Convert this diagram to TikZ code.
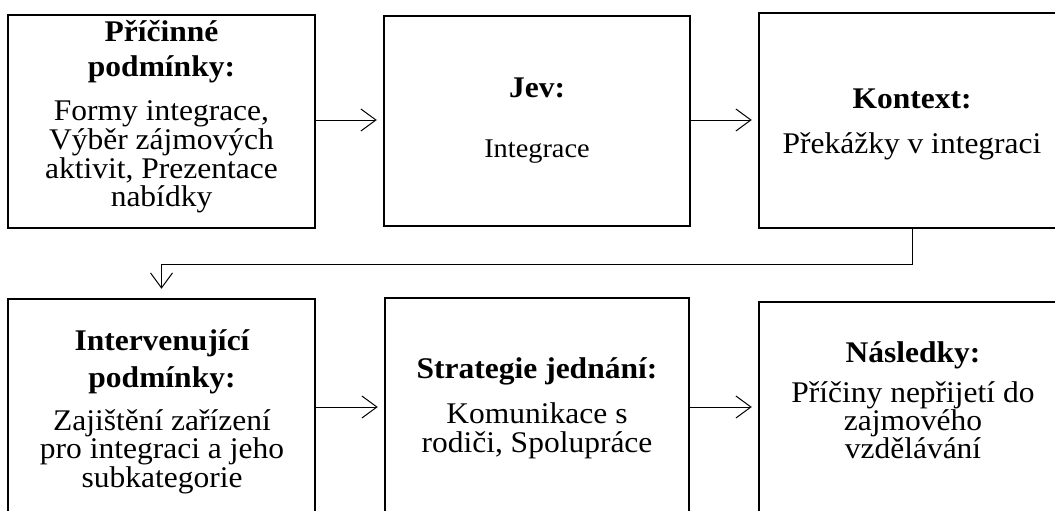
\documentclass[tikz,border=0pt]{standalone}
\usepackage{fontspec}
\setmainfont{Liberation Serif}[FakeStretch=1.05]
\usetikzlibrary{arrows.meta}
\tikzset{
  box/.style={draw, line width=2.5pt, rectangle, inner sep=0pt},
  conn/.style={line width=1pt, -{Straight Barb[length=15pt,width=22pt,line width=1pt]}},
  plainline/.style={line width=1pt},
  tl/.style={anchor=base, inner sep=0pt, font=\fontsize{30}{30}\selectfont},
  tb/.style={anchor=base, inner sep=0pt, font=\fontsize{30}{30}\selectfont\bfseries},
}
\begin{document}
\begin{tikzpicture}[x=1pt,y=-1pt]
\useasboundingbox (0,0) rectangle (1055,511);
\clip (0,0) rectangle (1055,511);
\fill[white] (0,0) rectangle (1055,511);

% boxes
\node[box, minimum width=307pt, minimum height=213pt] (b1) at (161.5,121.5) {};
\node[box, minimum width=306pt, minimum height=210pt] (b2) at (537,121) {};
\node[box, minimum width=306pt, minimum height=215pt] (b3) at (912,120.5) {};
\node[box, minimum width=307pt, minimum height=215pt] (b4) at (161.5,406.5) {};
\node[box, minimum width=304pt, minimum height=216pt] (b5) at (537,406) {};
\node[box, minimum width=306pt, minimum height=212pt] (b6) at (912,408) {};

% texts box 1
\node[tb] (t1a) at (161.5,42) {Příčinné};
\node[tb] (t1b) at (161.5,77) {podmínky:};
\node[tl] (t1c) at (161.5,120) {Formy integrace,};
\node[tl] (t1d) at (161.5,149) {Výběr zájmových};
\node[tl] (t1e) at (161.5,178) {aktivit, Prezentace};
\node[tl] (t1f) at (161.5,206) {nabídky};

% texts box 2
\node[tb] (t2a) at (537,98) {Jev:};
\node[tl, font=\fontsize{27}{27}\selectfont] (t2b) at (537,157) {Integrace};

% texts box 3
\node[tb] (t3a) at (912,108) {Kontext:};
\node[tl] (t3b) at (912,153) {Překážky v integraci};

% texts box 4
\node[tb] (t4a) at (162,350) {Intervenující};
\node[tb] (t4b) at (162,387) {podmínky:};
\node[tl] (t4c) at (162,430) {Zajištění zařízení};
\node[tl] (t4d) at (162,458) {pro integraci a jeho};
\node[tl] (t4e) at (162,487) {subkategorie};

% texts box 5
\node[tb] (t5a) at (537,378) {Strategie jednání:};
\node[tl] (t5b) at (537,423) {Komunikace s};
\node[tl] (t5c) at (537,452) {rodiči, Spolupráce};

% texts box 6
\node[tb] (t6a) at (913,362) {Následky:};
\node[tl] (t6b) at (913,402) {Příčiny nepřijetí do};
\node[tl] (t6c) at (913,430) {zajmového};
\node[tl] (t6d) at (913,458) {vzdělávání};

% connectors
\coordinate (elb) at (0,264);
\draw[conn, shorten >=6pt] (b1.east |- 0,120) -- (b2.west |- 0,120);
\draw[conn, shorten >=6pt] (b2.east |- 0,120) -- (b3.west |- 0,120);
\draw[conn, shorten >=9pt] (b3.south) -- (b3.south |- elb) -| (b4.north);
\draw[conn, shorten >=6pt] (b4.east |- 0,407) -- (b5.west |- 0,407);
\draw[conn, shorten >=6pt] (b5.east |- 0,407) -- (b6.west |- 0,407);
\end{tikzpicture}
\end{document}
